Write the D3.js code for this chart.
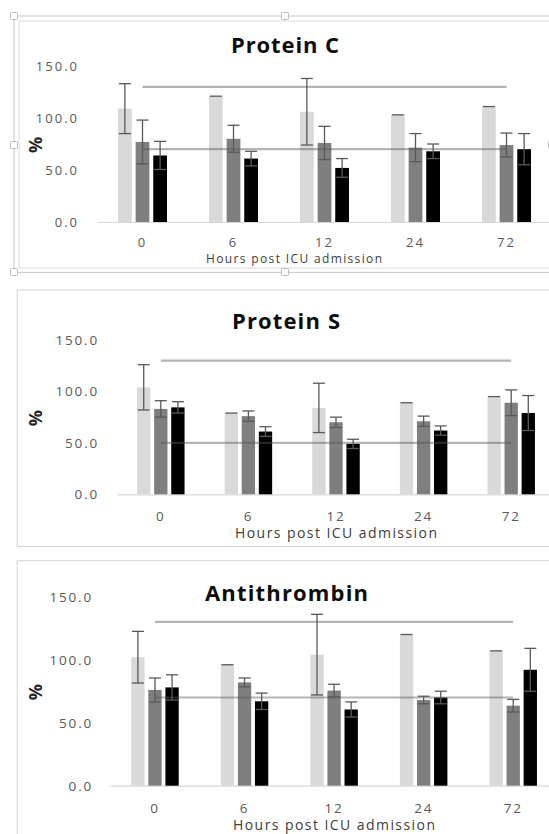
<!DOCTYPE html>
<html>
<head>
<meta charset="utf-8">
<script src="https://cdn.jsdelivr.net/npm/d3@7"></script>
<style>
  body { margin: 0; background: #fff; }
  svg { display: block; font-family: "Open Sans", sans-serif; }
</style>
</head>
<body>
<div id="vis"></div>
<script>
const svgWidth = 549,
  svgHeight = 834;

// data
const categories = ["0", "6", "12", "24", "72"];
const seriesColors = ["#d9d9d9", "#7f7f7f", "#000000"];
const yTicks = [0, 50, 100, 150];

const proteinCMean = [[109, 121, 106, 103, 111], [77, 80, 76, 71.5, 74], [64, 61, 52, 68, 70]];
const proteinCSD = [[24, 0, 32, 0, 0], [21, 13, 16, 13.5, 11.5], [13.5, 7, 9, 7, 15]];
const proteinCRef = [70, 130];

const proteinSMean = [[104, 79, 84, 89, 95], [83, 76, 70, 71, 89], [84.5, 61, 49, 62, 79]];
const proteinSSD = [[22, 0, 24, 0, 0], [8, 5, 5, 5, 12.5], [5.5, 4.7, 4.5, 4.5, 17]];
const proteinSRef = [50, 130];

const antithrombinMean = [[102, 96, 104, 120, 107], [76, 82, 75.5, 68, 63.5], [78, 67, 60.5, 70, 92]];
const antithrombinSD = [[20.5, 0, 32, 0, 0], [9.5, 3.5, 5, 3, 5], [10, 6.5, 6, 5, 17]];
const antithrombinRef = [70, 130];

// layout of each panel
const panels = [
  { title: "Protein C", mean: proteinCMean, sd: proteinCSD, ref: proteinCRef,
    x0: 97, x1: 552, y0: 222, yTop: 66, tickX: 79, titleX: 285, titleY: 45, titleW: 108,
    catY: 242.5, axTitleX: 294, axTitleY: 259, axTitleW: 176, axTitleSize: 12,
    barSpan: 49, tickSize: 13, tickSpacing: 2 },
  { title: "Protein S", mean: proteinSMean, sd: proteinSSD, ref: proteinSRef,
    x0: 117, x1: 555, y0: 494.3, yTop: 340, tickX: 99, titleX: 286, titleY: 321.5, titleW: 108,
    catY: 516, axTitleX: 336, axTitleY: 533.5, axTitleW: 202, axTitleSize: 14,
    barSpan: 47.5, tickSize: 13.5, tickSpacing: 1.8 },
  { title: "Antithrombin", mean: antithrombinMean, sd: antithrombinSD, ref: antithrombinRef,
    x0: 110.2, x1: 558, y0: 785.7, yTop: 596.7, tickX: 93, titleX: 286.5, titleY: 593, titleW: 163,
    catY: 808, axTitleX: 334, axTitleY: 825, axTitleW: 202, axTitleSize: 14,
    barSpan: 47.5, tickSize: 13.5, tickSpacing: 1.8 },
];

const svg = d3
  .select("#vis")
  .append("svg")
  .attr("width", svgWidth)
  .attr("height", svgHeight);

// frames
// panel 1 is shown selected (double border + handles)
svg.append("rect").attr("x", 14).attr("y", 16).attr("width", 560).attr("height", 256.5)
  .attr("fill", "none").attr("stroke", "#cfcfcf").attr("stroke-width", 1.2);
svg.append("rect").attr("x", 19).attr("y", 21).attr("width", 560).attr("height", 247)
  .attr("fill", "none").attr("stroke", "#dcdcdc").attr("stroke-width", 1);
svg.append("rect").attr("x", 17.3).attr("y", 290).attr("width", 560).attr("height", 256.5)
  .attr("fill", "none").attr("stroke", "#d9d9d9").attr("stroke-width", 1.2);
svg.append("rect").attr("x", 17.3).attr("y", 560.7).attr("width", 560).attr("height", 300)
  .attr("fill", "none").attr("stroke", "#d9d9d9").attr("stroke-width", 1.2);

const handles = [[14, 16], [285, 16], [14, 145], [14, 272], [285, 272], [552, 145]];
svg.selectAll("rect.handle")
  .data(handles)
  .enter()
  .append("rect")
  .attr("class", "handle")
  .attr("x", (d) => d[0] - 3.5)
  .attr("y", (d) => d[1] - 3.5)
  .attr("width", 7)
  .attr("height", 7)
  .attr("rx", 1)
  .attr("fill", "#fff")
  .attr("stroke", "#bdbdbd")
  .attr("stroke-width", 1);

panels.forEach(drawPanel);

function drawPanel(p) {
  const g = svg.append("g");

  const x = d3.scaleBand().domain(categories).range([p.x0, p.x1]).padding(0);
  const bw = x.bandwidth();
  const xs = d3.scaleBand()
    .domain(d3.range(3))
    .range([bw / 2 - p.barSpan / 2, bw / 2 + p.barSpan / 2])
    .paddingInner(0.22)
    .paddingOuter(0);
  const y = d3.scaleLinear().domain([0, 150]).range([p.y0, p.yTop]);

  // y tick labels (no axis line)
  const yAxis = g.append("g")
    .attr("transform", `translate(${p.tickX + 9},0)`)
    .call(d3.axisLeft(y).tickValues(yTicks).tickFormat(d3.format(".1f")).tickSize(0).tickPadding(9));
  yAxis.select(".domain").remove();
  yAxis.selectAll("text")
    .attr("fill", "#595959")
    .style("font-family", "Open Sans")
    .style("font-size", p.tickSize + "px")
    .style("letter-spacing", p.tickSpacing + "px");

  // x axis line + category labels
  const xAxis = g.append("g")
    .attr("transform", `translate(0,${p.y0})`)
    .call(d3.axisBottom(x).tickSize(0).tickPadding(0));
  xAxis.select(".domain").attr("stroke", "#d9d9d9").attr("stroke-width", 1.2);
  xAxis.selectAll("text")
    .attr("y", p.catY - p.y0)
    .attr("dy", "0.35em")
    .attr("fill", "#595959")
    .style("font-family", "Open Sans")
    .style("font-size", p.tickSize + "px")
    .style("letter-spacing", p.tickSpacing + "px");

  // bars
  const cells = [];
  p.mean.forEach((row, s) =>
    row.forEach((v, i) => cells.push({ s: s, cat: categories[i], v: v, sd: p.sd[s][i] }))
  );

  g.selectAll("rect.bar")
    .data(cells)
    .enter()
    .append("rect")
    .attr("class", "bar")
    .attr("x", (d) => x(d.cat) + xs(d.s))
    .attr("y", (d) => y(d.v))
    .attr("width", xs.bandwidth())
    .attr("height", (d) => p.y0 - y(d.v))
    .attr("fill", (d) => seriesColors[d.s]);

  // reference lines, from first to last category centre
  g.selectAll("line.ref")
    .data(p.ref)
    .enter()
    .append("line")
    .attr("class", "ref")
    .attr("x1", x(categories[0]) + bw / 2)
    .attr("x2", x(categories[categories.length - 1]) + bw / 2)
    .attr("y1", (d) => y(d))
    .attr("y2", (d) => y(d))
    .attr("stroke", "#595959")
    .attr("stroke-opacity", 0.45)
    .attr("stroke-width", 2.2);

  // error bars
  const err = g.selectAll("g.err")
    .data(cells)
    .enter()
    .append("g")
    .attr("class", "err")
    .attr("transform", (d) => `translate(${x(d.cat) + xs(d.s) + xs.bandwidth() / 2},0)`)
    .attr("stroke", "#595959")
    .attr("stroke-width", 1.3);
  err.append("line")
    .attr("y1", (d) => y(d.v + d.sd))
    .attr("y2", (d) => y(d.v - d.sd));
  err.append("line")
    .attr("x1", -6).attr("x2", 6)
    .attr("y1", (d) => y(d.v + d.sd))
    .attr("y2", (d) => y(d.v + d.sd));
  err.append("line")
    .attr("x1", -6).attr("x2", 6)
    .attr("y1", (d) => y(d.v - d.sd))
    .attr("y2", (d) => y(d.v - d.sd))
    .attr("display", (d) => (d.sd > 0 ? null : "none"));

  // titles
  g.append("text")
    .attr("x", p.titleX)
    .attr("y", p.titleY)
    .attr("dy", "0.35em")
    .attr("text-anchor", "middle")
    .attr("textLength", p.titleW)
    .attr("lengthAdjust", "spacing")
    .style("font-size", "22px")
    .style("font-weight", 700)
    .attr("fill", "#0d0d0d")
    .text(p.title);

  g.append("text")
    .attr("x", p.axTitleX)
    .attr("y", p.axTitleY)
    .attr("dy", "0.35em")
    .attr("text-anchor", "middle")
    .attr("textLength", p.axTitleW)
    .attr("lengthAdjust", "spacing")
    .style("font-size", p.axTitleSize + "px")
    .attr("fill", "#404040")
    .text("Hours post ICU admission");

  g.append("text")
    .attr("transform", `translate(36,${(p.y0 + p.yTop) / 2 + 1}) rotate(-90)`)
    .attr("dy", "0.35em")
    .attr("text-anchor", "middle")
    .style("font-size", "18px")
    .style("font-weight", 700)
    .attr("fill", "#262626")
    .text("%");
}
</script>
</body>
</html>
